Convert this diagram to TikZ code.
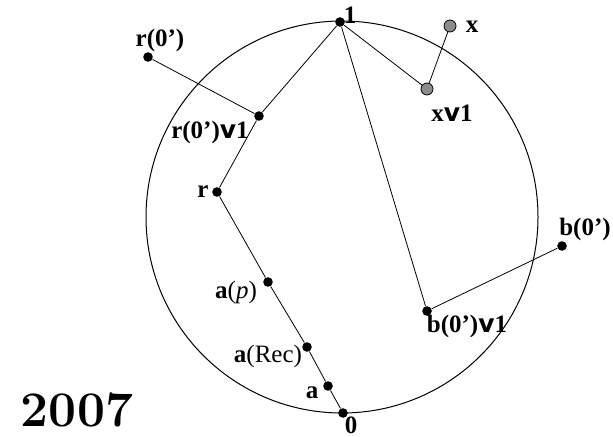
\documentclass[tikz,border=0pt]{standalone}
\usepackage{fontspec}
\newfontfamily\timesfont{Liberation Serif}
\newfontfamily\orfont{DejaVu Sans}
\newcommand{\vv}{{\orfont\bfseries v}}
\begin{document}
\begin{tikzpicture}[x=0.5pt, y=-0.5pt,
  pt/.style={circle, fill=black, inner sep=0pt, minimum size=4.8pt},
  gpt/.style={circle, draw=black, fill=black!45, inner sep=0pt, minimum size=6pt},
  lab/.style={font=\timesfont\fontsize{12.5}{13}\selectfont\bfseries, inner sep=0pt},
]
  \useasboundingbox (0,0) rectangle (613,437);
  \draw[line width=0.5pt] (342,217) circle [radius=98pt];
  % points
  \node[pt] (one) at (340,22) {};
  \node[pt] (zero) at (343,413) {};
  \node[pt] (r0) at (148,57) {};
  \node[pt] (r0v) at (259,116) {};
  \node[pt] (r) at (217,192) {};
  \node[pt] (ap) at (268,282) {};
  \node[pt] (arec) at (307,347) {};
  \node[pt] (a) at (328,386) {};
  \node[pt] (b0) at (562,246) {};
  \node[pt] (b0v) at (427,311) {};
  \node[gpt] (x) at (450,26) {};
  \node[gpt] (xv) at (427,89) {};
  % edges
  \draw (one) -- (r0v) -- (r) -- (ap) -- (arec) -- (a) -- (zero);
  \draw (r0) -- (r0v);
  \draw (one) -- (xv) -- (x);
  \draw (one) -- (b0v) -- (b0);
  % labels
  \node[lab] (lone) at (350,15) {1};
  \node[lab] (lzero) at (351,425) {0};
  \node[lab] (lr0) at (160,40) {r(0’)};
  \node[lab] (lr0v) at (210,132) {r(0’)\vv1};
  \node[lab] (lr) at (203,192) {r};
  \node[lab] (lap) at (236,292) {a\mdseries(\textit{p})};
  \node[lab] (larec) at (268,356) {a\mdseries(Rec)};
  \node[lab] (la) at (312,393) {a};
  \node[lab] (lx) at (472,27) {x};
  \node[lab] (lxv) at (452,113) {x\vv1};
  \node[lab] (lb0) at (585,229) {b(0’)};
  \node[lab] (lb0v) at (467,326) {b(0’)\vv1};
  \node[font=\Huge\bfseries] (year) at (77,410) {2007};
\end{tikzpicture}
\end{document}
